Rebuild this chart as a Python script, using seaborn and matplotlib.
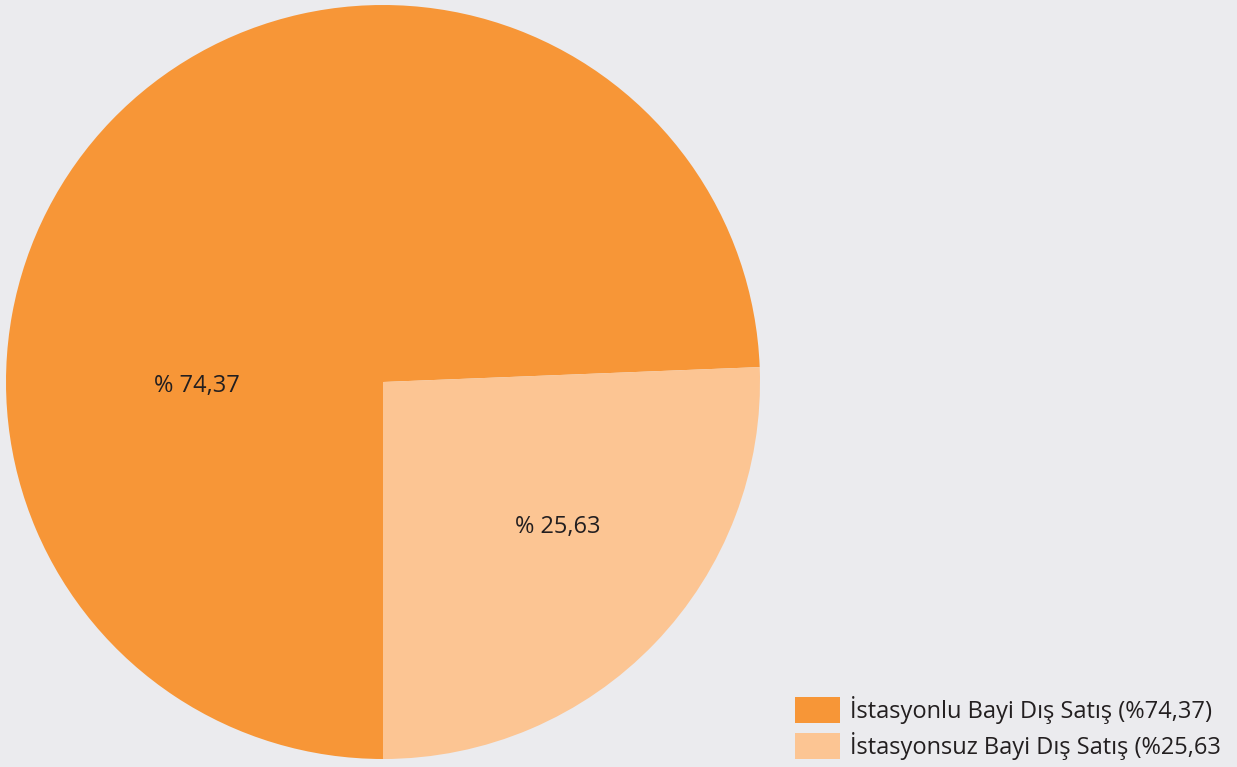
import matplotlib
matplotlib.use("Agg")
import matplotlib.pyplot as plt
import seaborn as sns

# ── Data ──────────────────────────────────────────────────────────────────────
categories = ["İstasyonlu Bayi Dış Satış", "İstasyonsuz Bayi Dış Satış"]
shares = [74.37, 25.63]
slice_labels = ["% 74,37", "% 25,63"]
legend_labels = ["İstasyonlu Bayi Dış Satış (%74,37)", "İstasyonsuz Bayi Dış Satış (%25,63"]
colors = ["#F79637", "#FCC593"]

BG = "#EBEBEE"
TEXT = "#231F20"
FS = 17

sns.set_theme(style="white")
plt.rcParams["font.family"] = ["Open Sans", "DejaVu Sans"]

W, H = 1237, 767
CX, CY, R = 383, H - 382, 377

fig = plt.figure(figsize=(W / 100, H / 100), dpi=100, facecolor=BG)
ax = fig.add_axes([0, 0, 1, 1])
ax.set_facecolor(BG)

wedges, texts = ax.pie(
    shares,
    colors=colors,
    startangle=-90,
    counterclock=False,
    center=(CX, CY),
    radius=R,
    labels=slice_labels,
    labeldistance=0.5,
    textprops=dict(fontsize=FS, color=TEXT, ha="center", va="center"),
    wedgeprops=dict(linewidth=0),
    frame=True,
)
# label offsets from the pie centre, as in the original layout
offsets = [(-186, -4), (175, -145)]
for t, (dx, dy) in zip(texts, offsets):
    t.set_position((CX + dx, CY + dy))
    t.set_ha("center")
    t.set_va("center")

ax.set_xlim(0, W)
ax.set_ylim(0, H)
ax.set_aspect("equal")
ax.axis("off")

fs_px = FS * 100 / 72
leg = ax.legend(
    wedges, legend_labels,
    loc="lower left",
    bbox_to_anchor=(795 / W, 7 / H),
    frameon=False,
    fontsize=FS,
    handlelength=45 / fs_px,
    handleheight=30 / fs_px,
    labelspacing=8 / fs_px,
    handletextpad=10 / fs_px,
    borderpad=0,
    borderaxespad=0,
)
for t in leg.get_texts():
    t.set_color(TEXT)

fig.savefig("out.png", dpi=100, facecolor=BG)
plt.close(fig)
